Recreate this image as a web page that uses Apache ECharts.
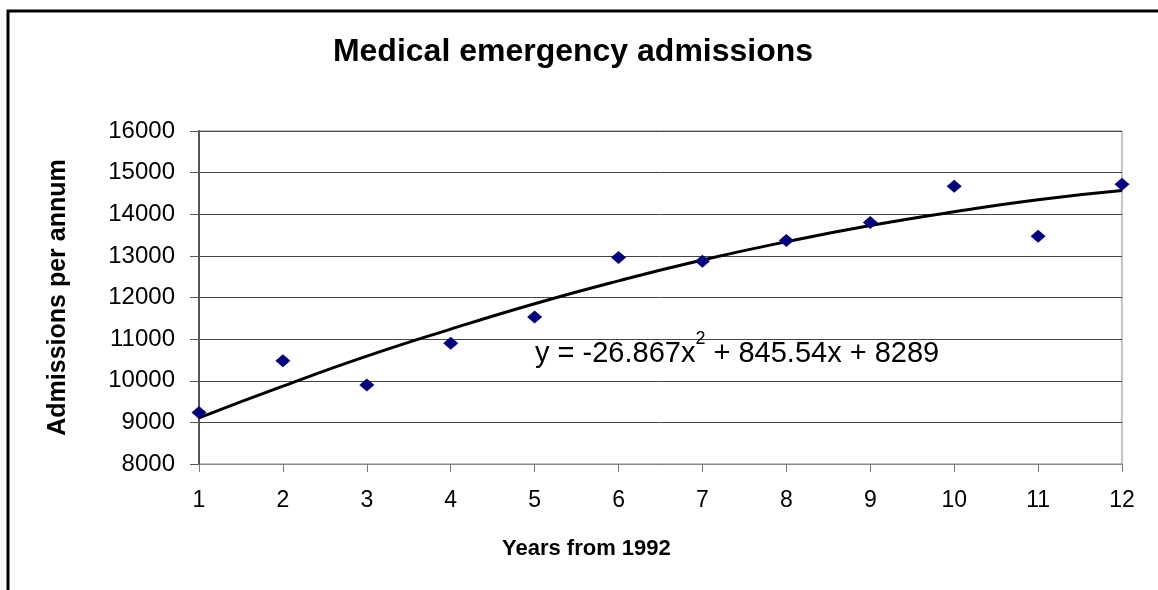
<!DOCTYPE html>
<html>
<head>
<meta charset="utf-8">
<title>Medical emergency admissions</title>
<script src="https://cdn.jsdelivr.net/npm/echarts@6/dist/echarts.min.js"></script>
<style>
  html, body { margin: 0; padding: 0; background: #ffffff; }
  #chart { width: 1158px; height: 590px; }
</style>
</head>
<body>
<div id="chart"></div>
<script>
// years from 1992
var years = [1, 2, 3, 4, 5, 6, 7, 8, 9, 10, 11, 12];
// admissions per annum
var admissions = [9240, 10480, 9900, 10900, 11530, 12960, 12870, 13370, 13800, 14670, 13470, 14720];
// polynomial trendline, read at each year
var trendValues = [9110, 9870, 10590, 11240, 11850, 12400, 12900, 13340, 13730, 14060, 14350, 14570];
var yTicks = { min: 8000, max: 16000, step: 1000 };
var equationText = "y = -26.867x";
var equationRest = " + 845.54x + 8289";

var font = "'Liberation Sans', Arial, sans-serif";

var myChart = echarts.init(document.getElementById("chart"));

var option = {
  backgroundColor: "#ffffff",
  animation: false,
  title: [
    {
      text: "Medical emergency admissions",
      left: 568,
      textAlign: "center",
      top: 31,
      textStyle: { fontFamily: font, fontSize: 32, fontWeight: "bold", color: "#000" }
    },
    {
      text: "Years from 1992",
      left: 497,
      top: 533,
      textStyle: { fontFamily: font, fontSize: 22, fontWeight: "bold", color: "#000" }
    }
  ],
  grid: {
    left: 199,
    right: 36,
    top: 131,
    bottom: 126,
    show: true,
    borderColor: "#8a8a8a",
    borderWidth: 1
  },
  xAxis: {
    type: "value",
    min: 1,
    max: 12,
    interval: 1,
    axisLine: { show: true, lineStyle: { color: "#8a8a8a", width: 1 } },
    axisTick: { show: true, inside: false, length: 8, lineStyle: { color: "#777" } },
    axisLabel: { fontFamily: font, fontSize: 23, color: "#000", margin: 25 },
    splitLine: { show: false }
  },
  yAxis: {
    type: "value",
    min: yTicks.min,
    max: yTicks.max,
    interval: yTicks.step,
    name: "Admissions per annum",
    nameLocation: "middle",
    nameGap: 128,
    nameRotate: 90,
    nameTextStyle: { fontFamily: font, fontSize: 25, fontWeight: "bold", color: "#000" },
    axisLine: { show: true, lineStyle: { color: "#555", width: 2 } },
    axisTick: { show: true, inside: false, length: 9, lineStyle: { color: "#555" } },
    axisLabel: {
      fontFamily: font, fontSize: 24, color: "#000", margin: 24,
      formatter: function (v) { return String(v); }
    },
    splitLine: { show: true, lineStyle: { color: "#444", width: 1 } }
  },
  series: [
    {
      name: "Trend",
      type: "line",
      smooth: true,
      showSymbol: false,
      data: years.map(function (x, i) { return [x, trendValues[i]]; }),
      lineStyle: { color: "#000", width: 3 },
      z: 2
    },
    {
      name: "Admissions",
      type: "scatter",
      symbol: "diamond",
      symbolSize: [15, 13],
      data: years.map(function (x, i) { return [x, admissions[i]]; }),
      itemStyle: { color: "#000080", opacity: 1 },
      z: 3
    }
  ],
  graphic: [
    {
      type: "rect",
      shape: { x: 8, y: 11, width: 1400, height: 800 },
      style: { fill: "none", stroke: "#000", lineWidth: 3 },
      silent: true
    },
    {
      type: "text",
      left: 535,
      top: 330,
      style: {
        text: "{a|" + equationText + "}{s|2}{a|" + equationRest + "}",
        rich: {
          a: { fontFamily: font, fontSize: 29, fill: "#000", lineHeight: 38, verticalAlign: "bottom" },
          s: { fontFamily: font, fontSize: 18, fill: "#000", lineHeight: 18, verticalAlign: "top" }
        }
      },
      z: 10
    }
  ]
};

myChart.setOption(option, true);
</script>
</body>
</html>
